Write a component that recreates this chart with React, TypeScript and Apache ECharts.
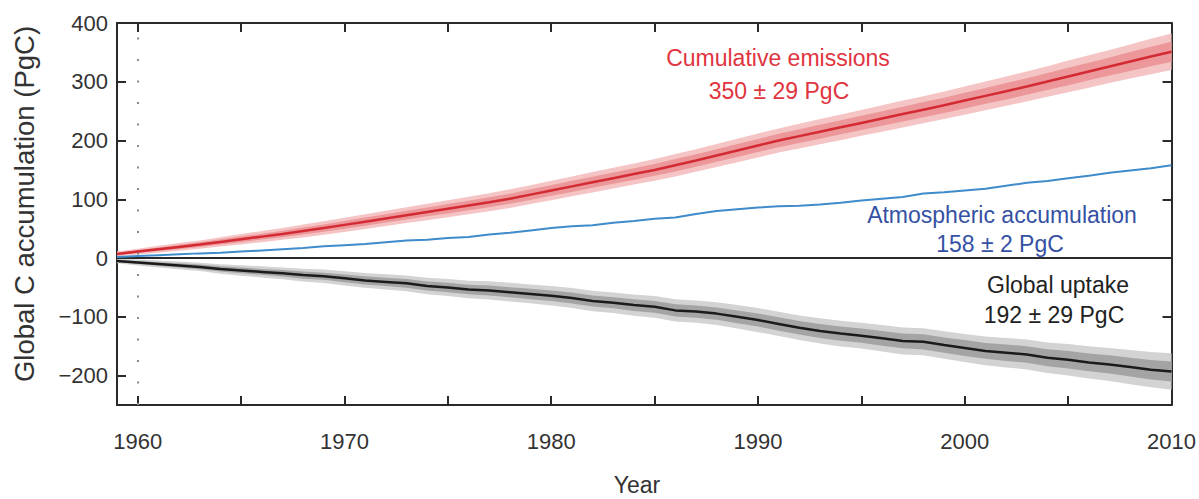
import React, { useEffect, useRef } from "react";
import * as echarts from "echarts";

const years: number[] = [
  1959, 1960, 1961, 1962, 1963, 1964, 1965, 1966, 1967, 1968, 1969,
  1970, 1971, 1972, 1973, 1974, 1975, 1976, 1977, 1978, 1979,
  1980, 1981, 1982, 1983, 1984, 1985, 1986, 1987, 1988, 1989,
  1990, 1991, 1992, 1993, 1994, 1995, 1996, 1997, 1998, 1999,
  2000, 2001, 2002, 2003, 2004, 2005, 2006, 2007, 2008, 2009, 2010,
];

// Cumulative emissions (PgC)
const emissions: number[] = [
  7, 11, 15, 19, 23, 27.5, 32, 36.5, 41, 46, 51,
  56.5, 62, 67.5, 73, 78.5, 84, 89.5, 95, 101, 108,
  115, 122, 129, 136, 143, 150, 158, 166, 174.5, 183,
  191.5, 200, 207.5, 215, 222.5, 230, 237.5, 245, 252.5, 260,
  268, 276, 284, 292, 300.5, 309, 317.5, 326, 334.5, 343, 351,
];

// Atmospheric accumulation (PgC)
const atmosphere: number[] = [
  2, 3.5, 5, 6.5, 8, 9, 11, 13, 15, 17, 20,
  22, 24, 27, 30, 31, 34, 36, 40, 43, 47,
  51, 54, 56, 60, 63, 67, 69, 75, 80, 83,
  86, 88, 89, 91, 94, 98, 101, 104, 110, 112,
  115, 118, 123, 128, 131, 136, 140, 145, 149, 153, 158,
];

// Global uptake (PgC, negative = removal)
const uptake: number[] = [
  -5, -7.5, -10, -12.5, -15, -18.5, -21, -23.5, -26, -29, -31,
  -34.5, -38, -40.5, -43, -47.5, -50, -53.5, -55, -58, -61,
  -64, -68, -73, -76, -80, -83, -89, -91, -94.5, -100,
  -105.5, -112, -118.5, -124, -128.5, -132, -136.5, -141, -142.5, -148,
  -153, -158, -161, -164, -169.5, -173, -177.5, -181, -185.5, -190, -193,
];

// Uncertainty band half-widths (PgC), shared by emissions and uptake (both ±29)
const bandOuter: number[] = [
  4, 5, 6, 6.5, 7, 8, 9, 9.5, 10, 11, 11.5,
  12, 12.5, 13, 13.5, 14, 14.5, 15, 15.5, 16, 16,
  16.5, 17, 17.5, 17.5, 18, 18.5, 19, 19, 19.5, 20,
  20.5, 20.5, 21, 21.5, 22, 22, 22.5, 23, 23, 23.5,
  24, 24.5, 25, 25.5, 26, 27, 27.5, 28, 29, 30, 31,
];
const bandInner: number[] = [
  2, 2.5, 3, 3.5, 4, 4.5, 5, 5, 5.5, 6, 6,
  6.5, 7, 7, 7.5, 7.5, 8, 8, 8.5, 8.5, 9,
  9, 9.5, 9.5, 9.5, 10, 10, 10.5, 10.5, 10.5, 11,
  11, 11.5, 11.5, 12, 12, 12, 12.5, 12.5, 13, 13,
  13.5, 13.5, 14, 14, 14.5, 15, 15, 15.5, 16, 16.5, 17,
];

const xTicks: number[] = [1960, 1965, 1970, 1975, 1980, 1985, 1990, 1995, 2000, 2005, 2010];
const xLabels: number[] = [1960, 1970, 1980, 1990, 2000, 2010];
const yTicks: number[] = [-200, -100, 0, 100, 200, 300, 400];

const FONT = "'Liberation Sans', Arial, Helvetica, sans-serif";
const AXIS_COLOR = "#2a2a2a";

function bandSeries(center: number[], half: number[], color: string, z: number) {
  const lo = center.map((c, i) => c - half[i]);
  const hi = center.map((c, i) => c + half[i]);
  return {
    type: "custom",
    xAxisIndex: 0,
    yAxisIndex: 0,
    z,
    silent: true,
    clip: true,
    encode: { x: 0, y: [1, 2] },
    data: years.map((y, i) => [y, lo[i], hi[i]]),
    renderItem: (params: any, api: any) => {
      if (params.dataIndex !== 0) return null;
      const pts: number[][] = [];
      for (let i = 0; i < years.length; i++) pts.push(api.coord([years[i], hi[i]]));
      for (let i = years.length - 1; i >= 0; i--) pts.push(api.coord([years[i], lo[i]]));
      return {
        type: "polygon",
        shape: { points: pts },
        style: { fill: color, stroke: null },
        silent: true,
      };
    },
  };
}

export default function App() {
  const ref = useRef<HTMLDivElement>(null);
  useEffect(() => {
    if (!ref.current) return;
    const chart = echarts.init(ref.current, undefined, { renderer: "svg" });
    const axisLine = { show: true, onZero: false, lineStyle: { color: AXIS_COLOR, width: 2 } };
    const tickStyle = { color: AXIS_COLOR, width: 2 };
    const textStyle = (text: string, fill: string, size = 23) => ({
      text,
      fill,
      fontSize: size,
      fontFamily: FONT,
      align: "center",
      verticalAlign: "middle",
    });
    const option: any = {
      animation: false,
      backgroundColor: "#ffffff",
      grid: { left: 117, right: 26, top: 23, bottom: 94, containLabel: false },
      xAxis: [
        {
          type: "value",
          min: 1959,
          max: 2010,
          position: "bottom",
          axisLine,
          axisTick: { show: true, inside: true, length: 9, customValues: xTicks, lineStyle: tickStyle },
          axisLabel: {
            show: true,
            customValues: xLabels,
            fontSize: 22,
            color: "#333",
            fontFamily: FONT,
            margin: 25,
            formatter: (v: number) => String(v),
          },
          splitLine: { show: false },
        },
        {
          type: "value",
          min: 1959,
          max: 2010,
          position: "top",
          axisLine,
          axisTick: { show: true, inside: true, length: 9, customValues: xTicks, lineStyle: tickStyle },
          axisLabel: { show: false },
          splitLine: { show: false },
        },
      ],
      yAxis: [
        {
          type: "value",
          min: -250,
          max: 400,
          position: "left",
          axisLine,
          axisTick: { show: true, inside: true, length: 9, customValues: yTicks, lineStyle: tickStyle },
          axisLabel: {
            show: true,
            customValues: yTicks,
            fontSize: 22,
            color: "#333",
            fontFamily: FONT,
            margin: 9,
            formatter: (v: number) => (v < 0 ? "\u2212" + Math.abs(v) : String(v)),
          },
          splitLine: { show: false },
        },
        {
          type: "value",
          min: -250,
          max: 400,
          position: "right",
          axisLine,
          axisTick: { show: true, inside: true, length: 9, customValues: yTicks, lineStyle: tickStyle },
          axisLabel: { show: false },
          splitLine: { show: false },
        },
      ],
      series: [
        bandSeries(emissions, bandOuter, "#f5c5c6", 1),
        bandSeries(emissions, bandInner, "#ec9799", 2),
        bandSeries(uptake, bandOuter, "#d3d3d3", 1),
        bandSeries(uptake, bandInner, "#a4a4a4", 2),
        {
          type: "line",
          name: "Atmospheric accumulation",
          data: years.map((y, i) => [y, atmosphere[i]]),
          showSymbol: false,
          symbol: "none",
          z: 5,
          lineStyle: { color: "#3f8bcb", width: 2 },
          silent: true,
          markLine: {
            silent: true,
            symbol: "none",
            label: { show: false },
            animation: false,
            data: [
              { yAxis: 0, lineStyle: { color: "#2a2a2a", width: 2, type: "solid" } },
              { xAxis: 1960, lineStyle: { color: "#8a8a8a", width: 2, type: [2, 19.5] } },
            ],
          },
        },
        {
          type: "line",
          name: "Cumulative emissions",
          data: years.map((y, i) => [y, emissions[i]]),
          showSymbol: false,
          symbol: "none",
          z: 6,
          lineStyle: { color: "#d42a33", width: 2.5 },
          silent: true,
        },
        {
          type: "line",
          name: "Global uptake",
          data: years.map((y, i) => [y, uptake[i]]),
          showSymbol: false,
          symbol: "none",
          z: 6,
          lineStyle: { color: "#1b1b1b", width: 2.5 },
          silent: true,
        },
      ],
      graphic: [
        { type: "text", x: 24, y: 204, rotation: Math.PI / 2, style: textStyle("Global C accumulation (PgC)", "#333", 27.5) },
        { type: "text", x: 637, y: 485, style: textStyle("Year", "#333", 23) },
        { type: "text", x: 778, y: 58, style: textStyle("Cumulative emissions", "#e0353e") },
        { type: "text", x: 779, y: 91, style: textStyle("350 \u00b1 29 PgC", "#e0353e") },
        { type: "text", x: 1002, y: 215, style: textStyle("Atmospheric accumulation", "#3551a3") },
        { type: "text", x: 1000, y: 244, style: textStyle("158 \u00b1 2 PgC", "#3551a3") },
        { type: "text", x: 1058, y: 285, style: textStyle("Global uptake", "#222") },
        { type: "text", x: 1054, y: 315, style: textStyle("192 \u00b1 29 PgC", "#222") },
      ],
    };
    chart.setOption(option);
    return () => chart.dispose();
  }, []);
  return (
    <div
      ref={ref}
      style={{ position: "fixed", left: 0, top: 0, width: 1199, height: 499, background: "#fff" }}
    />
  );
}
